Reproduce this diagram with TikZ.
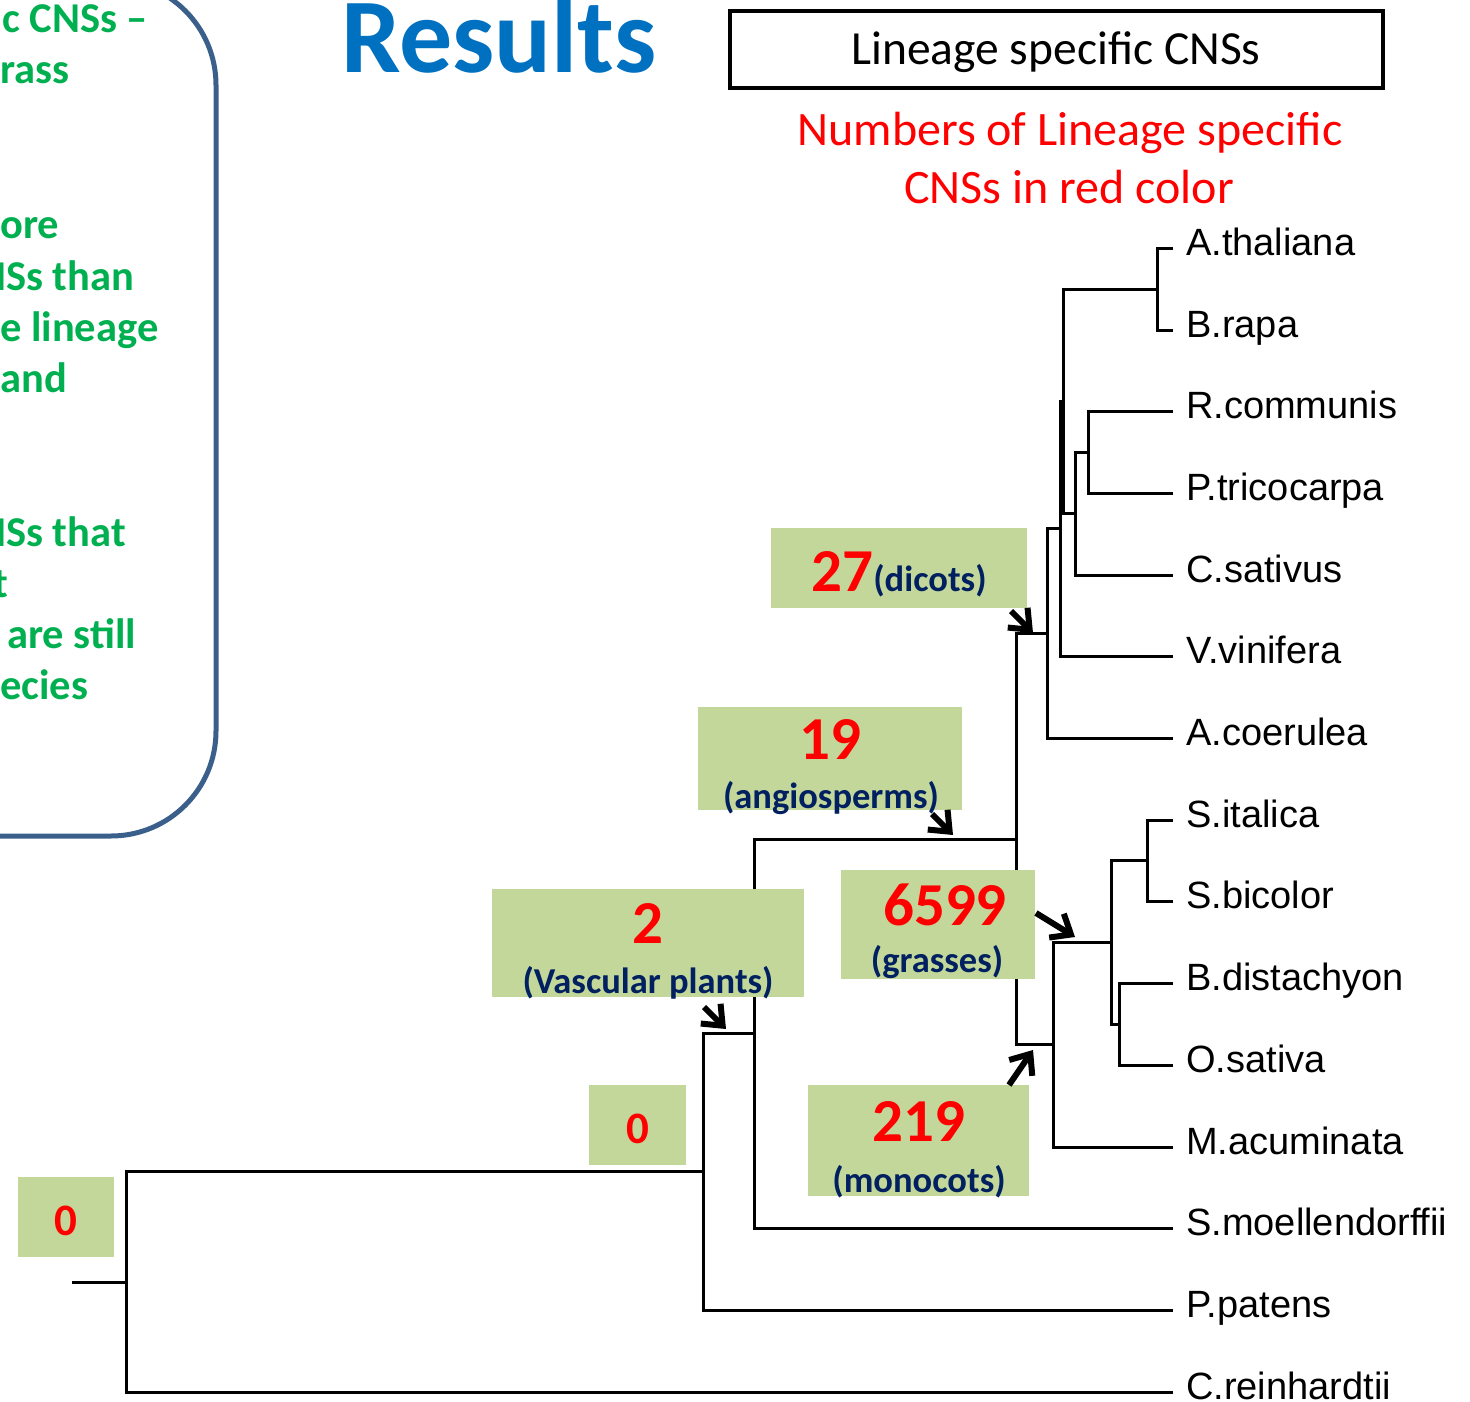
\documentclass[tikz,border=0pt]{standalone}
\usepackage{fontspec}
\setmainfont{Carlito}
\newfontfamily\leaffamily{Liberation Sans}
\usetikzlibrary{arrows.meta}
\definecolor{boxgreen}{HTML}{C4D79B}
\definecolor{titleblue}{HTML}{0070C0}
\definecolor{navy}{HTML}{002060}
\definecolor{txtgreen}{HTML}{00B050}
\definecolor{outlineblue}{HTML}{3A5F8B}
\begin{document}
\begin{tikzpicture}[x=1pt,y=-1pt,
  branch/.style={line width=3pt, line join=miter},
  leaf/.style={font=\leaffamily\fontsize{38}{40}\selectfont, anchor=mid west, inner sep=0pt, yshift=-5pt},
  gbox/.style={fill=boxgreen, draw=none, inner sep=0pt, outer sep=0pt, anchor=north west},
  num/.style={text=red, font=\bfseries\fontsize{61}{64}\selectfont, inner sep=0pt, anchor=base},
  zero/.style={text=red, font=\bfseries\fontsize{45}{48}\selectfont, inner sep=0pt, anchor=base},
  lab/.style={text=navy, font=\bfseries\fontsize{36.5}{40}\selectfont, inner sep=0pt, anchor=base},
  arr/.style={line width=6pt, -{Straight Barb[length=17pt,width=28pt,line width=6pt]}},
  note/.style={text=txtgreen, font=\bfseries\fontsize{42.5}{45}\selectfont, inner sep=0pt, anchor=base west}
]
\useasboundingbox (0,0) rectangle (1470,1402);
\clip (0,0) rectangle (1470,1402);

% left rounded panel
\draw[line width=5pt, draw=outlineblue, rounded corners=105pt] (-300,-20) rectangle (216,836);
\node[note] (g1) at (2,33) {c CNSs –};
\node[note] (g2) at (0,84) {rass};
\node[note] (g3) at (0,238) {ore};
\node[note] (g4) at (-22,290) {NSs than};
\node[note] (g5) at (0,341) {e lineage};
\node[note] (g6) at (0,392) {and};
\node[note] (g7) at (-22,546) {NSs that};
\node[note] (g8) at (-7,597) {t};
\node[note] (g9) at (7,648) {are still};
\node[note] (g10) at (0,699) {ecies};

% title and header
\node[anchor=base, inner sep=0pt, text=titleblue, font=\bfseries\fontsize{106}{110}\selectfont] (title) at (499,73) {Results};
\node[draw, line width=4pt, minimum width=653pt, minimum height=77pt, inner sep=0pt] (hdr) at (1056.5,49.5) {};
\node[anchor=base, inner sep=0pt, font=\fontsize{47.5}{50}\selectfont] (hdrtxt) at (1056,65) {Lineage specific CNSs};
\node[anchor=base, inner sep=0pt, text=red, font=\fontsize{48}{50}\selectfont] (red1) at (1070,146) {Numbers of Lineage specific};
\node[anchor=base, inner sep=0pt, text=red, font=\fontsize{48}{50}\selectfont] (red2) at (1069,204) {CNSs in red color};

% leaves
\coordinate (lA) at (1173,248);
\coordinate (lB) at (1173,330);
\coordinate (lR) at (1173,411);
\coordinate (lP) at (1173,493);
\coordinate (lC) at (1173,575);
\coordinate (lV) at (1173,656);
\coordinate (lAc) at (1173,738);
\coordinate (lSi) at (1173,820);
\coordinate (lSb) at (1173,901);
\coordinate (lBd) at (1173,983);
\coordinate (lO) at (1173,1065);
\coordinate (lM) at (1173,1147);
\coordinate (lSm) at (1173,1228);
\coordinate (lPp) at (1173,1310);
\coordinate (lCr) at (1173,1392);

% internal nodes
\coordinate (nBra) at (1157,289);
\coordinate (nRP) at (1088,452);
\coordinate (nRPC) at (1075,513.5);
\coordinate (nRos) at (1063,401);
\coordinate (nV) at (1060,528.75);
\coordinate (nEud) at (1047,633.4);
\coordinate (nSS) at (1147,860.5);
\coordinate (nBO) at (1119,1024);
\coordinate (nGr) at (1111,942);
\coordinate (nMon) at (1053,1044.5);
\coordinate (nAng) at (1016,839);
\coordinate (nVas) at (754,1033.7);
\coordinate (nLand) at (703,1171.9);
\coordinate (nRoot) at (126,1282);
\coordinate (stem) at (72,1282);

\draw[branch] (lA) -| (nBra) |- (lB);
\draw[branch] (lR) -| (nRP) |- (lP);
\draw[branch] (nRP) -| (nRPC) |- (lC);
\draw[branch] (nBra) -| (nRos) |- (nRPC);
\draw[branch] (nRos) -| (nV) |- (lV);
\draw[branch] (nV) -| (nEud) |- (lAc);
\draw[branch] (lSi) -| (nSS) |- (lSb);
\draw[branch] (lBd) -| (nBO) |- (lO);
\draw[branch] (nSS) -| (nGr) |- (nBO);
\draw[branch] (nGr) -| (nMon) |- (lM);
\draw[branch] (nEud) -| (nAng) |- (nMon);
\draw[branch] (nAng) -| (nVas) |- (lSm);
\draw[branch] (nVas) -| (nLand) |- (lPp);
\draw[branch] (nLand) -| (nRoot) |- (lCr);
\draw[branch] (stem) -- (nRoot);

% leaf labels
\node[leaf] (tA) at (1186,248) {A.thaliana};
\node[leaf] (tB) at (1186,330) {B.rapa};
\node[leaf] (tR) at (1186,411) {R.communis};
\node[leaf] (tP) at (1186,493) {P.tricocarpa};
\node[leaf] (tC) at (1186,575) {C.sativus};
\node[leaf] (tV) at (1186,656) {V.vinifera};
\node[leaf] (tAc) at (1186,738) {A.coerulea};
\node[leaf] (tSi) at (1186,820) {S.italica};
\node[leaf] (tSb) at (1186,901) {S.bicolor};
\node[leaf] (tBd) at (1186,983) {B.distachyon};
\node[leaf] (tO) at (1186,1065) {O.sativa};
\node[leaf] (tM) at (1186,1147) {M.acuminata};
\node[leaf] (tSm) at (1186,1228) {S.moellendorffii};
\node[leaf] (tPp) at (1186,1310) {P.patens};
\node[leaf] (tCr) at (1186,1392) {C.reinhardtii};

% green boxes
\node[gbox, minimum width=256pt, minimum height=80pt] (bDic) at (771,528) {};
\node[gbox, minimum width=264pt, minimum height=103pt] (bAng) at (698,707) {};
\node[gbox, minimum width=194pt, minimum height=109pt] (bGr) at (841,870) {};
\node[gbox, minimum width=312pt, minimum height=108pt] (bVas) at (492,889) {};
\node[gbox, minimum width=97pt, minimum height=80pt] (bZ1) at (589,1085) {};
\node[gbox, minimum width=221pt, minimum height=111pt] (bMon) at (808,1085) {};
\node[gbox, minimum width=96pt, minimum height=80pt] (bZ0) at (18,1177) {};

% box texts
\node[anchor=base, inner sep=0pt, font=\bfseries] (tDic) at (899,591) {\textcolor{red}{\fontsize{61}{64}\selectfont 27}\textcolor{navy}{\fontsize{36.5}{40}\selectfont(dicots)}};
\node[num] (nAng19) at (830,759) {19};
\node[lab] (lAng) at (831,808) {(angiosperms)};
\node[num] (nGr6599) at (945,925) {6599};
\node[lab] (lGr) at (937,972) {(grasses)};
\node[num] (nVas2) at (648,943) {2};
\node[lab] (lVas) at (648,993) {(Vascular plants)};
\node[num] (nMon219) at (919,1141) {219};
\node[lab] (lMon) at (919,1192) {(monocots)};
\node[zero] (z1) at (637.5,1143) {0};
\node[zero] (z0) at (66,1235) {0};

% arrows
\coordinate (aDs) at (1011,611);
\coordinate (aDt) at (1033,633);
\coordinate (aAs) at (932,814);
\coordinate (aAt) at (953,835);
\coordinate (aVs) at (704,1007);
\coordinate (aVt) at (726,1029);
\coordinate (aGs) at (1036,913);
\coordinate (aGt) at (1075,937);
\coordinate (aMs) at (1009,1085);
\coordinate (aMt) at (1033,1050);
\draw[arr] (aDs) -- (aDt);
\draw[arr] (aAs) -- (aAt);
\draw[arr] (aVs) -- (aVt);
\draw[arr] (aGs) -- (aGt);
\draw[arr] (aMs) -- (aMt);
\end{tikzpicture}
\end{document}
